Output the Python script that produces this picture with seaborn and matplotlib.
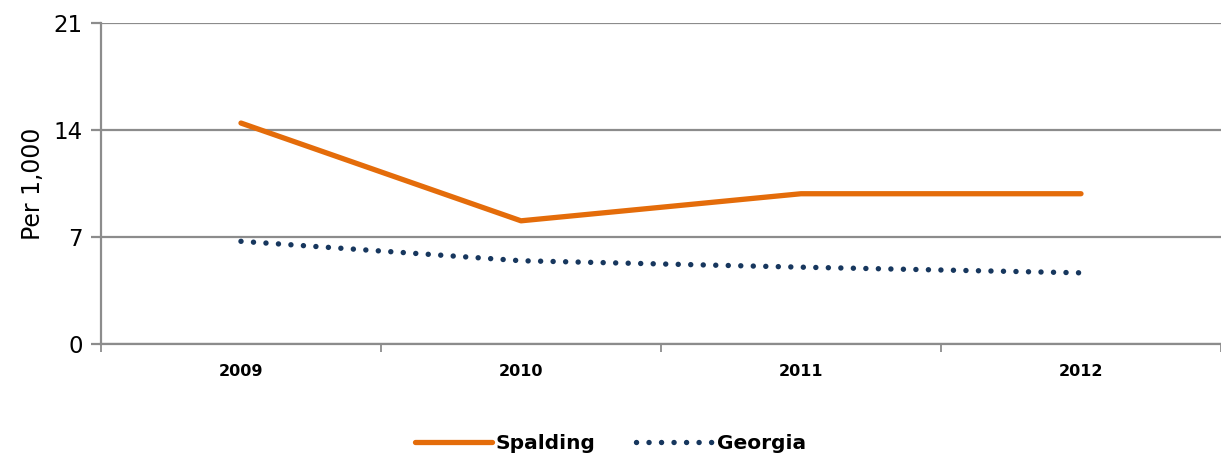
import pandas as pd
import seaborn as sns
import matplotlib.pyplot as plt
from matplotlib.ticker import FixedLocator

# values (per 1,000)
years = ['2009', '2010', '2011', '2012']
spalding = [14.45, 8.06, 9.83, 9.83]
georgia = [6.72, 5.45, 5.03, 4.66]

df = pd.DataFrame({
    'Year': years * 2,
    'Rate': spalding + georgia,
    'Area': ['Spalding'] * 4 + ['Georgia'] * 4,
})

sns.set_style('white')
plt.rcParams['font.family'] = ['DejaVu Sans']
plt.rcParams['text.color'] = 'black'
plt.rcParams['xtick.color'] = 'black'
plt.rcParams['ytick.color'] = 'black'
plt.rcParams['axes.labelcolor'] = 'black'

fig = plt.figure(figsize=(12.21, 4.57), dpi=100)
ax = fig.add_axes([0.0827, 0.247, 0.9173, 0.703])

sns.lineplot(data=df[df['Area'] == 'Spalding'], x='Year', y='Rate', ax=ax,
             color='#E46C0A', linewidth=3.8, solid_capstyle='round',
             label='Spalding')
sns.lineplot(data=df[df['Area'] == 'Georgia'], x='Year', y='Rate', ax=ax,
             color='#17375E', linewidth=3.9, linestyle=(0, (0.01, 2.3)),
             dash_capstyle='round', label='Georgia')

# axes look
ax.set_xlim(-0.5, 3.5)
ax.set_ylim(0, 21)
ax.set_yticks([0, 7, 14, 21])
ax.yaxis.grid(True, color='#8C8C8C', linewidth=1.6)
ax.set_axisbelow(True)
for side in ['top', 'right']:
    ax.spines[side].set_visible(False)
for side in ['left', 'bottom']:
    ax.spines[side].set_color('#8C8C8C')
    ax.spines[side].set_linewidth(1.6)

ax.tick_params(axis='y', left=True, length=7, width=1.6, color='#8C8C8C',
               labelsize=16.5, pad=6)
ax.tick_params(axis='x', which='major', length=0, labelsize=11.5, pad=14)
ax.xaxis.set_minor_locator(FixedLocator([-0.5, 0.5, 1.5, 2.5, 3.5]))
ax.tick_params(axis='x', which='minor', bottom=True, length=6, width=1.3,
               color='#8C8C8C')
for lab in ax.get_xticklabels():
    lab.set_fontweight('bold')

ax.set_xlabel('')
ax.set_ylabel('Per 1,000', fontsize=17, labelpad=6)

ax.legend(loc='center', bbox_to_anchor=(0.455, -0.31), ncol=2, frameon=False,
          prop={'size': 14.5, 'weight': 'bold'}, handlelength=3.8,
          handletextpad=0.2, columnspacing=2.0)

fig.savefig('out.png', dpi=100)
